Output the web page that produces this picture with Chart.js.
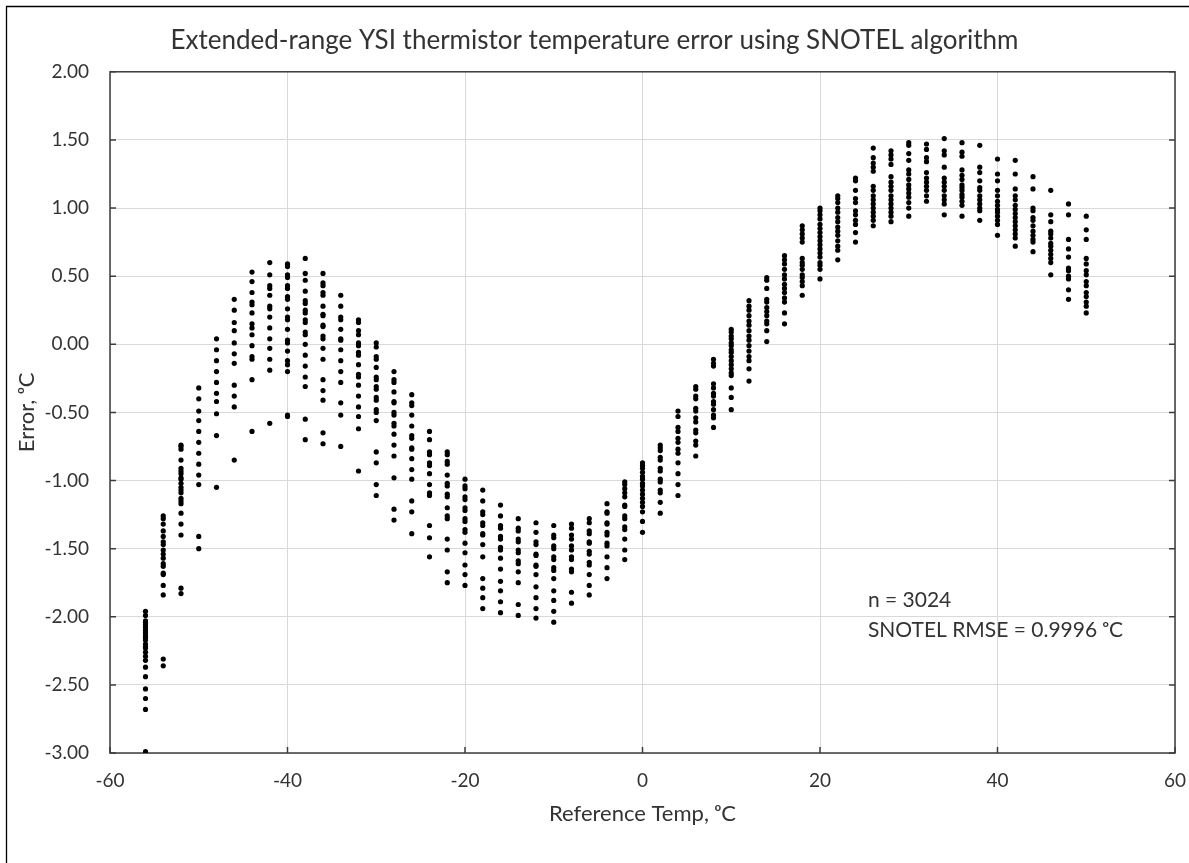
<!DOCTYPE html>
<html>
<head>
<meta charset="utf-8">
<script src="https://cdn.jsdelivr.net/npm/chart.js@4.4.1/dist/chart.umd.min.js"></script>
<style>
  html, body { margin: 0; padding: 0; background: #fff; }
  #wrap { width: 1189px; height: 863px; }
</style>
</head>
<body>
<div id="wrap"><canvas id="c" width="1189" height="863"></canvas></div>
<script>
// ---------- data ----------
const chartTitle = 'Extended-range YSI thermistor temperature error using SNOTEL algorithm';
const xTitle = 'Reference Temp, ᵒC';
const yTitle = 'Error, ᵒC';
const noteLines = ['n = 3024', 'SNOTEL RMSE = 0.9996 ᵒC'];

const refTemps = [-56, -54, -52, -50, -48, -46, -44, -42, -40, -38, -36, -34, -32, -30, -28, -26, -24, -22, -20, -18,
  -16, -14, -12, -10, -8, -6, -4, -2, 0, 2, 4, 6, 8, 10, 12, 14, 16, 18, 20, 22, 24, 26, 28, 30, 32, 34, 36, 38, 40,
  42, 44, 46, 48, 50];

const errors = [
  [-1.96, -1.99, -2.03, -2.04, -2.06, -2.08, -2.10, -2.12, -2.14, -2.15, -2.17, -2.20, -2.22, -2.23, -2.26, -2.29, -2.32, -2.37, -2.44, -2.53, -2.60, -2.68, -2.99],
  [-1.26, -1.28, -1.32, -1.37, -1.41, -1.45, -1.47, -1.51, -1.54, -1.57, -1.61, -1.63, -1.68, -1.69, -1.77, -1.84, -2.31, -2.36],
  [-0.74, -0.75, -0.77, -0.85, -0.91, -0.93, -0.95, -0.98, -0.99, -1.02, -1.05, -1.07, -1.09, -1.13, -1.15, -1.17, -1.24, -1.32, -1.40, -1.79, -1.83],
  [-0.32, -0.40, -0.49, -0.56, -0.64, -0.72, -0.80, -0.88, -0.96, -1.03, -1.41, -1.50],
  [0.04, -0.04, -0.12, -0.20, -0.28, -0.36, -0.42, -0.51, -0.67, -1.05],
  [0.33, 0.25, 0.16, 0.10, 0.01, -0.07, -0.14, -0.30, -0.38, -0.46, -0.85],
  [0.53, 0.46, 0.38, 0.31, 0.29, 0.23, 0.15, 0.12, 0.07, -0.01, -0.09, -0.11, -0.26, -0.64],
  [0.60, 0.51, 0.43, 0.41, 0.36, 0.28, 0.26, 0.20, 0.12, 0.04, -0.03, -0.11, -0.19, -0.58],
  [0.59, 0.57, 0.51, 0.49, 0.43, 0.41, 0.35, 0.33, 0.26, 0.20, 0.18, 0.11, 0.03, 0.01, -0.05, -0.12, -0.15, -0.20, -0.52, -0.53],
  [0.63, 0.52, 0.47, 0.39, 0.32, 0.30, 0.25, 0.23, 0.18, 0.16, 0.09, 0.07, 0.00, -0.08, -0.16, -0.24, -0.31, -0.55, -0.70],
  [0.52, 0.45, 0.43, 0.38, 0.36, 0.28, 0.22, 0.21, 0.14, 0.13, 0.06, 0.04, -0.03, -0.11, -0.26, -0.34, -0.41, -0.65, -0.73],
  [0.36, 0.28, 0.20, 0.18, 0.11, 0.04, 0.03, -0.04, -0.12, -0.20, -0.28, -0.43, -0.52, -0.75],
  [0.18, 0.16, 0.10, 0.07, 0.01, -0.01, -0.06, -0.08, -0.15, -0.22, -0.24, -0.30, -0.38, -0.46, -0.53, -0.62, -0.93],
  [0.01, -0.02, -0.09, -0.11, -0.17, -0.24, -0.26, -0.31, -0.33, -0.39, -0.41, -0.48, -0.50, -0.56, -0.79, -0.87, -1.03, -1.11],
  [-0.20, -0.26, -0.28, -0.35, -0.42, -0.43, -0.50, -0.52, -0.58, -0.60, -0.66, -0.74, -0.82, -0.98, -1.21, -1.29],
  [-0.37, -0.43, -0.45, -0.52, -0.60, -0.67, -0.69, -0.76, -0.77, -0.84, -0.92, -0.99, -1.15, -1.23, -1.39],
  [-0.64, -0.70, -0.79, -0.81, -0.87, -0.89, -0.95, -1.03, -1.09, -1.11, -1.33, -1.42, -1.56],
  [-0.79, -0.81, -0.86, -0.88, -0.96, -1.02, -1.04, -1.10, -1.12, -1.20, -1.26, -1.28, -1.43, -1.51, -1.67, -1.75],
  [-0.99, -1.04, -1.06, -1.12, -1.14, -1.20, -1.22, -1.28, -1.30, -1.36, -1.38, -1.46, -1.53, -1.62, -1.69, -1.77],
  [-1.07, -1.15, -1.23, -1.25, -1.31, -1.33, -1.39, -1.40, -1.47, -1.56, -1.72, -1.79, -1.86, -1.94],
  [-1.18, -1.26, -1.33, -1.35, -1.41, -1.43, -1.49, -1.51, -1.57, -1.65, -1.74, -1.81, -1.89, -1.97],
  [-1.28, -1.35, -1.37, -1.43, -1.45, -1.51, -1.53, -1.59, -1.61, -1.67, -1.75, -1.91, -1.99],
  [-1.31, -1.38, -1.45, -1.47, -1.54, -1.55, -1.62, -1.63, -1.69, -1.78, -1.86, -1.94, -2.01],
  [-1.33, -1.40, -1.42, -1.48, -1.50, -1.56, -1.58, -1.64, -1.66, -1.72, -1.81, -1.88, -1.96, -2.04],
  [-1.32, -1.35, -1.40, -1.43, -1.48, -1.51, -1.56, -1.58, -1.65, -1.67, -1.82, -1.90],
  [-1.28, -1.31, -1.37, -1.39, -1.45, -1.46, -1.52, -1.54, -1.60, -1.62, -1.69, -1.77, -1.84],
  [-1.17, -1.23, -1.24, -1.31, -1.32, -1.38, -1.40, -1.46, -1.48, -1.56, -1.64, -1.72],
  [-1.01, -1.03, -1.06, -1.09, -1.12, -1.18, -1.19, -1.26, -1.28, -1.34, -1.36, -1.43, -1.51, -1.58],
  [-0.87, -0.89, -0.91, -0.94, -0.97, -0.99, -1.02, -1.04, -1.07, -1.10, -1.13, -1.16, -1.19, -1.23, -1.30, -1.38],
  [-0.74, -0.76, -0.78, -0.83, -0.85, -0.91, -0.93, -0.99, -1.01, -1.07, -1.09, -1.16, -1.24],
  [-0.49, -0.53, -0.61, -0.64, -0.69, -0.72, -0.77, -0.80, -0.87, -0.95, -1.03, -1.11],
  [-0.31, -0.33, -0.38, -0.40, -0.47, -0.49, -0.54, -0.57, -0.63, -0.65, -0.71, -0.74, -0.82],
  [-0.11, -0.14, -0.16, -0.29, -0.32, -0.36, -0.38, -0.42, -0.44, -0.48, -0.52, -0.54, -0.61],
  [0.11, 0.09, 0.06, 0.04, 0.01, -0.01, -0.04, -0.06, -0.09, -0.12, -0.15, -0.18, -0.21, -0.23, -0.32, -0.39, -0.48],
  [0.32, 0.28, 0.25, 0.21, 0.17, 0.14, 0.10, 0.06, 0.03, -0.01, -0.05, -0.09, -0.12, -0.18, -0.27],
  [0.49, 0.47, 0.41, 0.33, 0.31, 0.27, 0.24, 0.21, 0.17, 0.15, 0.10, 0.02],
  [0.65, 0.62, 0.59, 0.55, 0.51, 0.48, 0.44, 0.41, 0.38, 0.34, 0.31, 0.23, 0.15],
  [0.87, 0.84, 0.81, 0.78, 0.75, 0.63, 0.60, 0.58, 0.55, 0.51, 0.49, 0.46, 0.43, 0.36],
  [1.00, 0.98, 0.95, 0.92, 0.88, 0.85, 0.82, 0.79, 0.76, 0.73, 0.70, 0.67, 0.64, 0.60, 0.58, 0.55, 0.48],
  [1.09, 1.07, 1.04, 1.00, 0.97, 0.93, 0.90, 0.86, 0.83, 0.80, 0.76, 0.72, 0.69, 0.62],
  [1.22, 1.20, 1.13, 1.07, 1.04, 0.98, 0.95, 0.91, 0.88, 0.82, 0.75],
  [1.44, 1.37, 1.33, 1.30, 1.27, 1.16, 1.13, 1.09, 1.06, 1.03, 1.00, 0.97, 0.94, 0.91, 0.87],
  [1.42, 1.39, 1.36, 1.32, 1.23, 1.19, 1.16, 1.13, 1.09, 1.06, 1.03, 1.00, 0.97, 0.94, 0.90],
  [1.48, 1.46, 1.40, 1.35, 1.28, 1.25, 1.21, 1.17, 1.14, 1.11, 1.08, 1.04, 1.00, 0.94],
  [1.47, 1.43, 1.37, 1.34, 1.26, 1.22, 1.19, 1.16, 1.13, 1.09, 1.05],
  [1.51, 1.42, 1.39, 1.30, 1.22, 1.19, 1.16, 1.13, 1.09, 1.06, 1.03, 0.95],
  [1.48, 1.41, 1.38, 1.28, 1.24, 1.21, 1.17, 1.15, 1.13, 1.10, 1.08, 1.05, 1.02, 0.94],
  [1.46, 1.30, 1.26, 1.20, 1.15, 1.13, 1.09, 1.06, 1.03, 1.00, 0.98, 0.91],
  [1.36, 1.25, 1.20, 1.13, 1.09, 1.05, 1.02, 0.99, 0.97, 0.94, 0.91, 0.88, 0.80],
  [1.35, 1.25, 1.14, 1.09, 1.06, 1.02, 0.99, 0.96, 0.93, 0.90, 0.87, 0.84, 0.81, 0.78, 0.72],
  [1.23, 1.14, 1.00, 0.98, 0.93, 0.91, 0.87, 0.83, 0.80, 0.77, 0.75, 0.68],
  [1.13, 0.95, 0.90, 0.83, 0.81, 0.78, 0.74, 0.72, 0.69, 0.66, 0.63, 0.60, 0.51],
  [1.03, 0.95, 0.77, 0.70, 0.64, 0.56, 0.54, 0.50, 0.48, 0.40, 0.33],
  [0.94, 0.84, 0.77, 0.63, 0.59, 0.54, 0.51, 0.46, 0.43, 0.38, 0.35, 0.31, 0.28, 0.23]
];

const xTickMin = -60, xTickMax = 60, xTickStep = 20;
const yTickMin = -3, yTickMax = 2, yTickStep = 0.5;

// note position in data units
const noteX = 25.4, noteY1 = -1.88, noteY2 = -2.10;

// ---------- build ----------
const points = [];
refTemps.forEach((t, i) => errors[i].forEach(e => points.push({ x: t, y: e })));

const FONT = "Lato, Carlito, Calibri, 'DejaVu Sans', sans-serif";
const TEXT = '#333333';

const decor = {
  id: 'decor',
  beforeDatasetsDraw(chart) {
    const { ctx, chartArea: a, scales: { x, y } } = chart;
    ctx.save();
    ctx.strokeStyle = '#3c3c3c';
    ctx.lineWidth = 1.5;
    ctx.strokeRect(a.left, a.top, a.right - a.left, a.bottom - a.top);
    const L = 6;
    ctx.beginPath();
    y.ticks.forEach(t => {
      const py = y.getPixelForValue(t.value);
      ctx.moveTo(a.left, py); ctx.lineTo(a.left + L, py);
      ctx.moveTo(a.right, py); ctx.lineTo(a.right - L, py);
    });
    x.ticks.forEach(t => {
      const px = x.getPixelForValue(t.value);
      ctx.moveTo(px, a.bottom); ctx.lineTo(px, a.bottom - L);
    });
    ctx.stroke();
    ctx.restore();
  },
  afterDraw(chart) {
    const { ctx, scales: { x, y } } = chart;
    ctx.save();
    // outer border (left & top)
    ctx.strokeStyle = '#000';
    ctx.lineWidth = 1.3;
    ctx.beginPath();
    ctx.moveTo(6.5, chart.height); ctx.lineTo(6.5, 6.5); ctx.lineTo(chart.width, 6.5);
    ctx.stroke();
    // note
    ctx.fillStyle = TEXT;
    ctx.font = "21px " + FONT;
    ctx.textAlign = 'left';
    ctx.textBaseline = 'middle';
    ctx.fillText(noteLines[0], x.getPixelForValue(noteX), y.getPixelForValue(noteY1));
    ctx.fillText(noteLines[1], x.getPixelForValue(noteX), y.getPixelForValue(noteY2));
    ctx.restore();
  }
};

new Chart(document.getElementById('c'), {
  type: 'scatter',
  data: {
    datasets: [{
      data: points,
      backgroundColor: '#000',
      borderWidth: 0,
      pointRadius: 2.6,
      pointHoverRadius: 2.6
    }]
  },
  options: {
    responsive: false,
    animation: false,
    events: [],
    layout: { padding: 0 },
    plugins: {
      legend: { display: false },
      tooltip: { enabled: false },
      title: {
        display: true,
        text: chartTitle,
        color: TEXT,
        font: { family: FONT, size: 26, weight: 'normal', lineHeight: 1.2 },
        padding: { top: 25, bottom: 15.6 }
      }
    },
    scales: {
      x: {
        type: 'linear',
        min: xTickMin, max: xTickMax,
        afterFit(s) { s.height = 110; s.paddingLeft = 0; s.paddingRight = 0; },
        ticks: { stepSize: xTickStep, color: TEXT, font: { family: FONT, size: 19 }, padding: 16, maxRotation: 0 },
        grid: { color: '#d9d9d9', lineWidth: 1, drawTicks: false },
        border: { display: false },
        title: {
          display: true, text: xTitle, color: TEXT,
          font: { family: FONT, size: 22, lineHeight: 1.2 },
          padding: { top: 0, bottom: 36 }
        }
      },
      y: {
        type: 'linear',
        min: yTickMin, max: yTickMax,
        afterFit(s) { s.width = 110; s.paddingTop = 0; s.paddingBottom = 0; },
        ticks: {
          stepSize: yTickStep, color: TEXT, font: { family: FONT, size: 19 }, padding: 21,
          callback: v => Number(v).toFixed(2)
        },
        grid: { color: '#d9d9d9', lineWidth: 1, drawTicks: false },
        border: { display: false },
        title: {
          display: true, text: yTitle, color: TEXT,
          font: { family: FONT, size: 22, lineHeight: 1.2 },
          padding: { top: 13.5, bottom: 0 }
        }
      },
      yRight: {
        type: 'linear',
        position: 'right',
        min: yTickMin, max: yTickMax,
        afterFit(s) { s.width = 14; s.paddingTop = 0; s.paddingBottom = 0; },
        ticks: { display: false },
        grid: { display: false, drawTicks: false },
        border: { display: false }
      }
    }
  },
  plugins: [decor]
});
</script>
</body>
</html>
